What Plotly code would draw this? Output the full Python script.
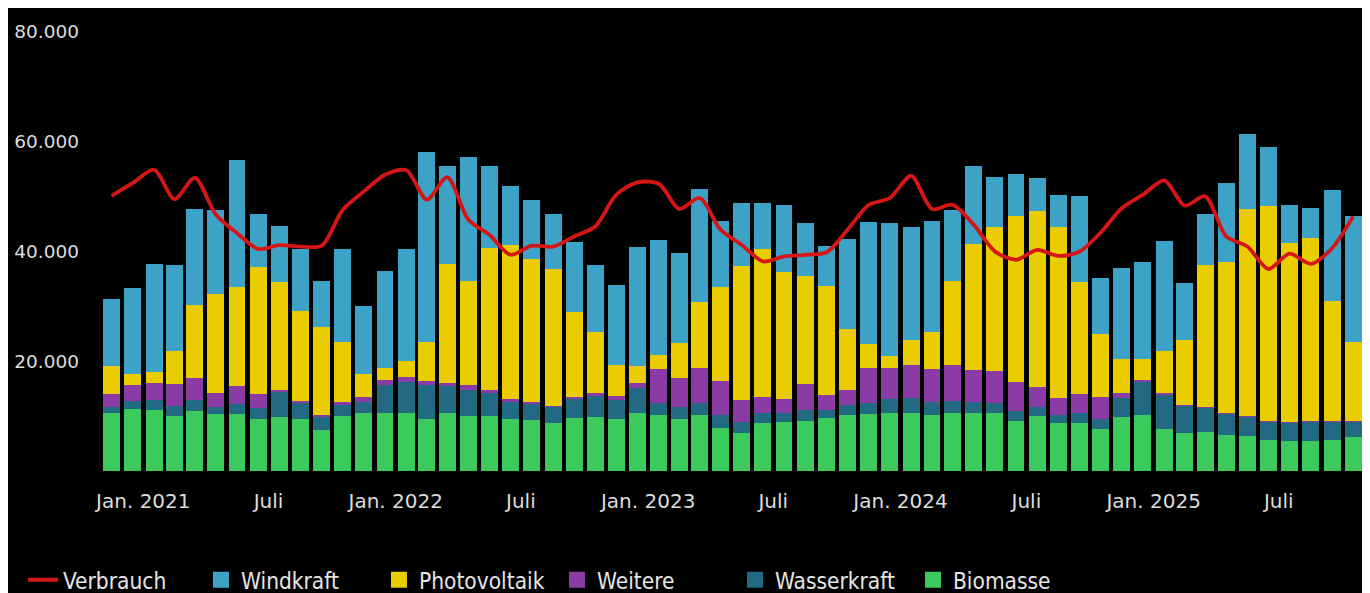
import pandas as pd
import plotly.graph_objects as go

months = pd.date_range("2020-11-01", periods=60, freq="MS").strftime("%Y-%m-%d").tolist()

biomasse = [10650, 11250, 11100, 10000, 11000, 10400, 10400, 9400, 9800, 9500,
            7400, 10100, 10650, 10650, 10650, 9400, 10650, 10000, 10100, 9400,
            9300, 8800, 9700, 9800, 9400, 10650, 10200, 9400, 10200, 7800,
            6900, 8800, 9000, 9200, 9600, 10200, 10400, 10650, 10650, 10200,
            10500, 10500, 10500, 9200, 10000, 8800, 8800, 7600, 9800, 10200,
            7600, 6900, 7050, 6600, 6300, 5700, 5500, 5500, 5700, 6150]
wasserkraft = [1100, 1580, 1800, 1800, 1950, 1340, 1800, 2000, 4700, 3000,
               2550, 1950, 2000, 5000, 5650, 6250, 4750, 4850, 4200, 3200,
               3050, 2900, 3500, 3900, 3550, 4450, 2150, 2200, 2250, 2450,
               2100, 1700, 1500, 1950, 1500, 1800, 1950, 2450, 2600, 2450,
               2300, 2150, 1850, 1800, 1700, 1400, 1700, 1800, 3450, 6100,
               6250, 5000, 4550, 3800, 3550, 3350, 3300, 3450, 3350, 2850]
weitere = [2300, 2800, 3150, 4000, 3950, 2450, 3300, 2700, 300, 300,
           250, 450, 900, 900, 900, 750, 700, 750, 500, 450,
           200, 200, 300, 500, 750, 900, 6200, 5300, 6250, 6100,
           3850, 2900, 2550, 4700, 2750, 2850, 6400, 5650, 6100, 5900,
           6500, 5800, 5950, 5300, 3650, 3050, 3550, 4000, 1050, 200,
           300, 200, 150, 150, 150, 150, 150, 150, 150, 150]
photovoltaik = [5000, 2050, 2050, 6000, 13300, 18000, 18100, 23000, 19700, 16400,
                16050, 10950, 4150, 2300, 2800, 7150, 21600, 19000, 25850, 28150,
                26100, 25000, 15500, 11050, 5650, 3150, 2500, 6500, 12150, 17200,
                24550, 27000, 23300, 19650, 19950, 10950, 4450, 2250, 4450, 6850,
                15400, 23000, 26250, 30100, 32100, 31300, 20400, 11550, 6100, 3900,
                7700, 11750, 25700, 27500, 37800, 39100, 32600, 33300, 21750, 14300]
windkraft = [12350, 15600, 19700, 15800, 17550, 15300, 23100, 9700, 10100, 11250,
             8300, 17000, 12300, 17550, 20400, 34650, 17800, 22550, 14900, 10800,
             10650, 9950, 12750, 12300, 14600, 21750, 21100, 16400, 20550, 12000,
             11450, 8400, 12150, 9700, 7250, 16400, 22150, 24200, 20650, 20200,
             12900, 14100, 9100, 7800, 5900, 5750, 15750, 10150, 16600, 17600,
             20100, 10350, 9400, 14450, 13550, 10800, 6850, 5600, 20250, 22950]
verbrauch = [50150, 52450, 54900, 49550, 53400, 46700, 43350, 40450, 41150, 40900,
             41050, 47600, 50950, 54000, 54800, 49450, 53550, 45800, 43050, 39400,
             41050, 40900, 42750, 44550, 50350, 52600, 52350, 47750, 49750, 43950,
             41200, 38200, 39100, 39400, 39850, 43950, 48500, 49750, 53800, 47750,
             48500, 44850, 40000, 38500, 40300, 39200, 40000, 43450, 47900, 50350,
             52950, 48350, 50050, 42750, 40900, 36800, 39600, 37750, 40600, 46400]

x_tickvals = ["2021-01-01", "2021-07-01", "2022-01-01", "2022-07-01", "2023-01-01",
              "2023-07-01", "2024-01-01", "2024-07-01", "2025-01-01", "2025-07-01"]
x_ticktext = ["Jan. 2021", "Juli", "Jan. 2022", "Juli", "Jan. 2023",
              "Juli", "Jan. 2024", "Juli", "Jan. 2025", "Juli"]
y_tickvals = [20000, 40000, 60000, 80000]
y_ticktext = ["20.000", "40.000", "60.000", "80.000"]

stack = [
    ("Biomasse", biomasse, "#3dca5d"),
    ("Wasserkraft", wasserkraft, "#216a82"),
    ("Weitere", weitere, "#8b3ba6"),
    ("Photovoltaik", photovoltaik, "#e9cd00"),
    ("Windkraft", windkraft, "#3ca3c7"),
]

fig = go.Figure()
for name, vals, col in stack:
    fig.add_trace(go.Bar(
        x=months, y=vals, name=name, legendgroup=name, showlegend=False,
        xperiod="M1", xperiodalignment="middle",
        marker=dict(color=col, line=dict(width=0)),
    ))

fig.add_trace(go.Scatter(
    x=months, y=verbrauch, name="Verbrauch", mode="lines",
    xperiod="M1", xperiodalignment="middle",
    line=dict(color="#d61616", width=3.8, shape="spline", smoothing=0.8),
))

for name, vals, col in reversed(stack):
    fig.add_trace(go.Scatter(
        x=[None], y=[None], name=name, legendgroup=name, mode="markers",
        marker=dict(symbol="square", size=16, color=col),
    ))

fig.update_layout(
    width=1362, height=585,
    margin=dict(l=80, r=2, t=24, b=122),
    barmode="stack", bargap=0.17,
    paper_bgcolor="#000000", plot_bgcolor="#000000",
    showlegend=True,
    legend=dict(
        orientation="h", traceorder="normal",
        xref="container", yref="container",
        x=0.011, y=0.022, xanchor="left", yanchor="middle",
        entrywidth=133, entrywidthmode="pixels",
        bgcolor="rgba(0,0,0,0)",
        font=dict(family="DejaVu Sans Condensed, Roboto Condensed, Roboto", size=22.5, color="#e6e6e6"),
    ),
    xaxis=dict(
        type="date", range=["2020-10-13", "2025-11-07"],
        tickvals=x_tickvals, ticktext=x_ticktext,
        showgrid=False, zeroline=False, showline=False, ticks="",
        ticklabelstandoff=16,
        tickfont=dict(family="DejaVu Sans", size=20, color="#dddddd"),
    ),
    yaxis=dict(
        range=[0, 80000],
        tickvals=y_tickvals, ticktext=y_ticktext,
        showgrid=False, zeroline=False, showline=False, ticks="",
        ticklabelstandoff=8,
        tickfont=dict(family="DejaVu Sans", size=18.5, color="#dddddd"),
    ),
)

fig.write_html("out.html")
